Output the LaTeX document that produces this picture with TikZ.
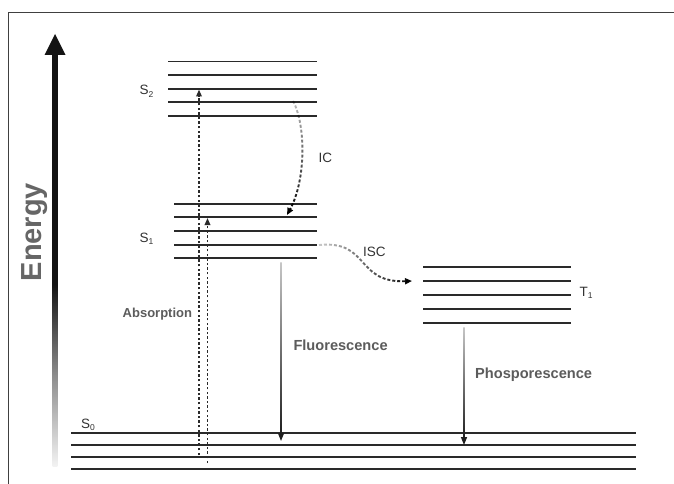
\documentclass[tikz,border=0pt]{standalone}
\usepackage{fontspec}
\setmainfont{Liberation Sans}
\usetikzlibrary{arrows.meta,fadings}

\definecolor{levelgray}{HTML}{2A2A2A}
\definecolor{labelgray}{HTML}{5C5C5C}
\definecolor{textdark}{HTML}{333333}
\definecolor{energygray}{HTML}{666666}

% fadings for the relaxation curves (light at the start, dark towards the tip)
\tikzfading[name=fadetop, top color=transparent!75, middle color=transparent!0, bottom color=transparent!0]
\tikzfading[name=fadeleft, left color=transparent!80, middle color=transparent!0, right color=transparent!0]

% energy shaft: pale at the foot, black from about the middle upwards
\pgfdeclareverticalshading{energyshaft}{100bp}{
  color(0bp)=(black!5); color(25bp)=(black!5); color(36bp)=(black!45);
  color(47bp)=(black!92); color(100bp)=(black!92)}

% lowered small index for state names
\newcommand{\lvsub}[1]{\raisebox{-2.4pt}{\fontsize{8.5}{9}\selectfont #1}}

\begin{document}
\begin{tikzpicture}[x=1pt,y=-1pt,
  level/.style={draw=levelgray, line width=1.8pt},
  absarrow/.style={draw=levelgray, line width=1.6pt, dash pattern=on 2.4pt off 2.2pt,
    -{Triangle[length=7pt,width=5.5pt]}},
  relax/.style={draw=black, line width=1.9pt, dash pattern=on 3pt off 2pt,
    -{Triangle[length=7pt,width=6pt]}},
  emitarrow/.style={draw=black!88, line width=1.4pt, -{Triangle[length=8pt,width=6pt]}},
  statelabel/.style={text=textdark, font=\fontsize{13.5}{15}\selectfont, inner sep=0pt, anchor=base west},
  proclabel/.style={text=labelgray, font=\bfseries\fontsize{14.6}{17}\selectfont, inner sep=0pt, anchor=base west},
]
\useasboundingbox (0,0) rectangle (674,484);
\fill[white] (0,0) rectangle (674,484);

% frame
\draw[black!75, line width=1pt] (8.5,484) -- (8.5,13) -- (674,13);

% energy axis: shaded shaft and arrowhead
\coordinate (en0) at (55,466);
\coordinate (en1) at (55,34);
\shade[shading=energyshaft]
  ([xshift=-2.3pt]en0) rectangle ([xshift=2.3pt,yshift=-20pt]en1);
\fill[black!92] (en1) -- ([xshift=-10.5pt,yshift=-21pt]en1) -- ([xshift=10.5pt,yshift=-21pt]en1) -- cycle;
\node[text=energygray, font=\bfseries\fontsize{29}{33}\selectfont, inner sep=0pt,
  rotate=90, anchor=base west] (energy) at (41.5,281.5) {Energy};

% vibrational levels
\foreach \y in {61.5,75,88.7,102.3,116.3} \draw[level] (168,\y) -- (317,\y);
\foreach \y in {203.7,217.3,231,244.7,258.3} \draw[level] (174,\y) -- (317,\y);
\foreach \y in {267,281,295,309,323} \draw[level] (423,\y) -- (571,\y);
\foreach \y in {433,445,457,469} \draw[level] (71,\y) -- (636,\y);

% state labels
\node[statelabel] (lS2) at (139.5,95) {S\lvsub{2}};
\node[statelabel] (lS1) at (139.5,242.5) {S\lvsub{1}};
\node[statelabel] (lS0) at (81,428) {S\lvsub{0}};
\node[statelabel] (lT1) at (579.5,296) {T\lvsub{1}};

% absorption
\coordinate (absL0) at (199,455);
\coordinate (absL1) at (199,89.5);
\coordinate (absR0) at (207.5,463);
\coordinate (absR1) at (207.5,218);
\draw[absarrow] (absL0) -- (absL1);
\draw[absarrow] (absR0) -- (absR1);
\node[proclabel, font=\bfseries\fontsize{13}{15}\selectfont] (labs) at (122.5,317) {Absorption};

% internal conversion
\coordinate (ic0) at (293,101);
\coordinate (ic1) at (287,215);
\draw[relax, path fading=fadetop] (ic0) .. controls (306,125) and (306,180) .. (ic1);
\node[statelabel] (lIC) at (318.5,162.3) {IC};

% intersystem crossing
\coordinate (isc0) at (319,245);
\coordinate (isc1) at (412,281);
\draw[relax, path fading=fadeleft] (isc0) .. controls (370,240) and (355,283) .. (isc1);
\node[statelabel] (lISC) at (363,256) {ISC};

% fluorescence
\coordinate (fl0) at (281,262);
\coordinate (fl1) at (281,441);
\shade[top color=black!22, bottom color=black!88]
  ([xshift=-0.7pt]fl0) rectangle ([xshift=0.7pt,yshift=6pt]fl1);
\draw[emitarrow] ([yshift=8pt]fl1) -- (fl1);
\node[proclabel] (lfl) at (293.3,350.7) {Fluorescence};

% phosphorescence
\coordinate (ph0) at (464,327);
\coordinate (ph1) at (464,445);
\shade[top color=black!22, bottom color=black!88]
  ([xshift=-0.7pt]ph0) rectangle ([xshift=0.7pt,yshift=6pt]ph1);
\draw[emitarrow] ([yshift=8pt]ph1) -- (ph1);
\node[proclabel] (lph) at (475,378.3) {Phosporescence};
\end{tikzpicture}
\end{document}
